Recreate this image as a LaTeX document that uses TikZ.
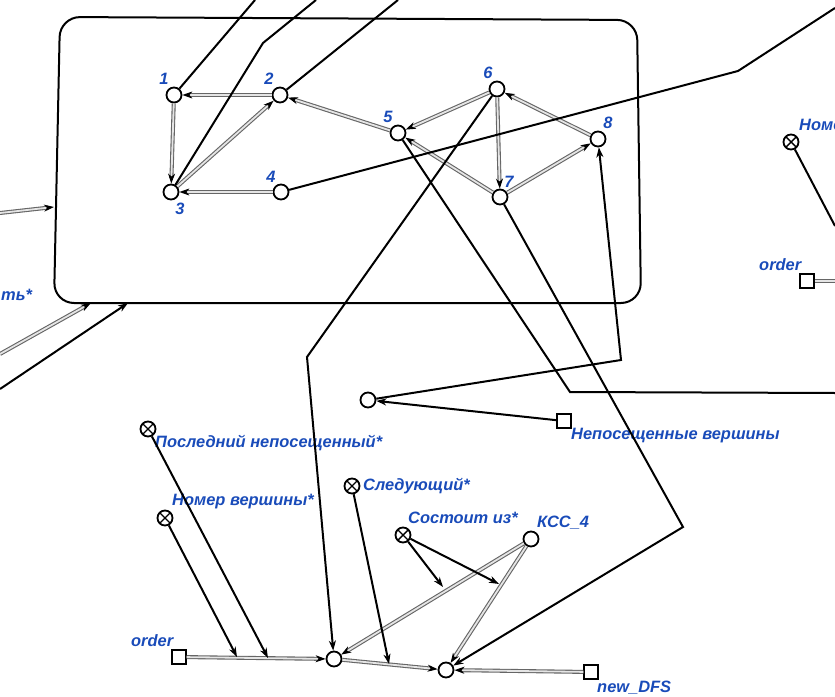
\documentclass[tikz,border=0pt]{standalone}
\usepackage{fontspec}
\setmainfont{Liberation Sans}
\usetikzlibrary{arrows.meta,calc,decorations.markings}
\definecolor{lblue}{RGB}{25,75,185}
\tikzset{
  tipstyle/.style={-{Stealth[length=10bp,width=7bp,inset=3bp]}},
  ln/.style={line width=2bp, black},
  lnarrow/.style={ln, tipstyle},
  dbl/.style={draw=black!60, line width=1.1bp, double=black!10, double distance=1.8bp},
  dblarrow/.style={dbl, shorten >=6bp,
    postaction={decorate, decoration={markings,
      mark=at position 1 with {\arrow[black, line width=1.1bp]{Stealth[length=10bp,width=7bp,inset=3bp]}}}}},
  vtx/.style={circle, draw, line width=1.8bp, fill=white, minimum size=15bp, inner sep=0pt},
  xvtx/.style={circle, draw, line width=1.8bp, fill=white, minimum size=15bp, inner sep=0pt,
    path picture={\draw[line width=1.4bp] (path picture bounding box.north west) -- (path picture bounding box.south east)
      (path picture bounding box.north east) -- (path picture bounding box.south west);}},
  sq/.style={rectangle, draw, line width=1.8bp, fill=white, minimum size=13.5bp, inner sep=0pt},
  lbl/.style={text=lblue, font=\bfseries\itshape\fontsize{16.5}{19}\selectfont, inner sep=0pt},
  num/.style={lbl},
}
\begin{document}
\begin{tikzpicture}[x=1bp, y=-1bp]
\useasboundingbox (0,0) rectangle (835,697);
\clip (0,0) rectangle (835,697);

% container frame around the graph
\draw[ln, rounded corners=20bp] (348,18.5) -- (637,20) -- (641,303) -- (54,303) -- (60,17) -- cycle;

% graph vertices
\node[vtx] (v1) at (174,95) {};
\node[vtx] (v2) at (280,95) {};
\node[vtx] (v3) at (171,192) {};
\node[vtx] (v4) at (281,192) {};
\node[vtx] (v5) at (398,133) {};
\node[vtx] (v6) at (497,89) {};
\node[vtx] (v7) at (500,197) {};
\node[vtx] (v8) at (598,139) {};
\node[num] (n1) at (164,79) {1};
\node[num] (n2) at (269,79) {2};
\node[num] (n3) at (180,209) {3};
\node[num] (n4) at (271,177) {4};
\node[num] (n5) at (388,117) {5};
\node[num] (n6) at (488,73) {6};
\node[num] (n7) at (509,182) {7};
\node[num] (n8) at (608,123) {8};

% graph edges
\draw[dblarrow] (v2) -- (v1);
\draw[dblarrow] (v1) -- (v3);
\draw[dblarrow] (v3) -- (v2);
\draw[dblarrow] (v4) -- (v3);
\draw[dblarrow] (v5) -- (v2);
\draw[dblarrow] (v6) -- (v5);
\draw[dblarrow] (v7) -- (v5);
\draw[dblarrow] (v6) -- (v7);
\draw[dblarrow] (v7) -- (v8);
\draw[dblarrow] (v8) -- (v6);

% lower part
\node[vtx] (ca) at (334,659) {};
\node[vtx] (cb) at (446,670) {};
\node[vtx] (cc) at (368,400) {};
\node[vtx] (kcc) at (531,539) {};
\node[xvtx] (xlast) at (148,429) {};
\node[xvtx] (xnum) at (165,518) {};
\node[xvtx] (xnext) at (352,486) {};
\node[xvtx] (xcons) at (403,535) {};
\node[xvtx] (xnumr) at (791,142) {};
\node[sq] (sqorder) at (179,657) {};
\node[sq] (squnv) at (564,421) {};
\node[sq] (sqnew) at (591,672) {};
\node[sq] (sqorderr) at (807,281) {};

\node[lbl, anchor=west] (tlast) at (155,443) {Последний непосещенный*};
\node[lbl, anchor=west] (tnum) at (172,502) {Номер вершины*};
\node[lbl, anchor=west] (tnext) at (363,486) {Следующий*};
\node[lbl, anchor=west] (tcons) at (408,518) {Состоит из*};
\node[lbl, anchor=west] (tkcc) at (537,523) {КСС\_4};
\node[lbl, anchor=west] (tunv) at (571,436) {Непосещенные вершины};
\node[lbl, anchor=west] (tnew) at (597,688) {new\_DFS};
\node[lbl, anchor=west] (torder) at (131,641) {order};
\node[lbl, anchor=west] (torderr) at (759,265) {order};
\node[lbl, anchor=west] (tnumr) at (799,127) {Номер вершины*};
\node[lbl, anchor=west] (tleft) at (1,295) {ть*};

% bend and edge points
\coordinate (top1) at (255,0);
\coordinate (b3) at (263,43);
\coordinate (top3) at (316,0);
\coordinate (top2) at (398,0);
\coordinate (b4) at (738,71);
\coordinate (r4) at (835,8);
\coordinate (b5) at (570,392);
\coordinate (r5) at (835,393);
\coordinate (b6) at (307,357);
\coordinate (b7) at (683,527);
\coordinate (b8) at (621,360);
\coordinate (rx) at (835,226);
\coordinate (rsq) at (835,281);
\coordinate (fl) at (54,207);
\coordinate (fb1) at (91,303);
\coordinate (fb2) at (128,303);
\coordinate (l1) at (0,213);
\coordinate (l2) at (0,354);
\coordinate (l3) at (0,389);
\coordinate (p1) at (237,657);
\coordinate (p2) at (268,658);
\coordinate (p3) at (389,664);
\coordinate (p4) at (443,587);
\coordinate (p5) at (499,584);

% connectors leaving the graph
\draw[ln] (v1) -- (top1);
\draw[ln] (v3) -- (b3) -- (top3);
\draw[ln] (v2) -- (top2);
\draw[ln] (v4) -- (b4) -- (r4);
\draw[ln] (v5) -- (b5) -- (r5);
\draw[lnarrow] (v6) -- (b6) -- (ca);
\draw[lnarrow] (v7) -- (b7) -- (cb);
\draw[lnarrow] (cc) -- (b8) -- (v8);
\draw[lnarrow] (squnv) -- (cc);

% connectors into the frame
\draw[dblarrow] (l1) -- (fl);
\draw[dblarrow] (l2) -- (fb1);
\draw[lnarrow] (l3) -- (fb2);

% right side
\draw[ln] (xnumr) -- (rx);
\draw[dbl] (sqorderr) -- (rsq);

% bottom connectors
\draw[dblarrow] (sqorder) -- (ca);
\draw[dblarrow] (ca) -- (cb);
\draw[dblarrow] (kcc) -- (ca);
\draw[dblarrow] (kcc) -- (cb);
\draw[dblarrow] (sqnew) -- (cb);
\draw[lnarrow] (xnum) -- (p1);
\draw[lnarrow] (xlast) -- (p2);
\draw[lnarrow] (xnext) -- (p3);
\draw[lnarrow] (xcons) -- (p4);
\draw[lnarrow] (xcons) -- (p5);
\end{tikzpicture}
\end{document}
